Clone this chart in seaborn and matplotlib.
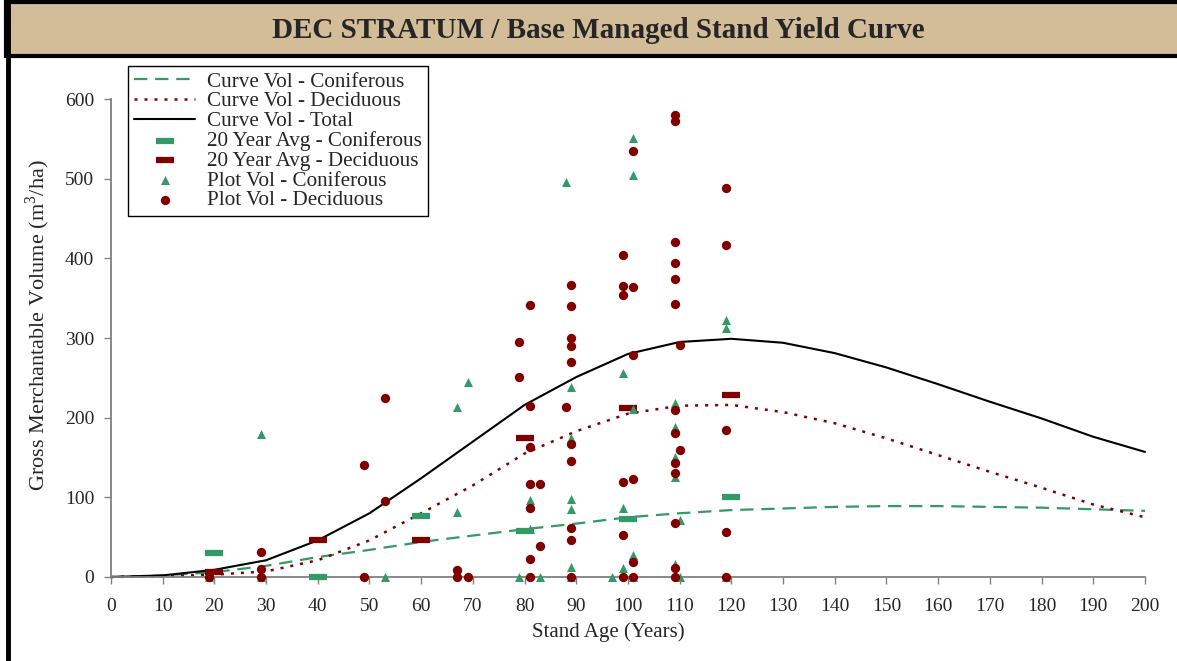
import matplotlib
matplotlib.use('Agg')
import matplotlib.pyplot as plt
from matplotlib.patches import Rectangle
from matplotlib.lines import Line2D
import numpy as np
import pandas as pd
import seaborn as sns

# yield curves, every 10 years
curve_age = [0, 10, 20, 30, 40, 50, 60, 70, 80, 90, 100, 110, 120, 130, 140, 150, 160, 170, 180, 190, 200]
curve_con = [0, 2, 6, 14, 25, 34, 44, 52, 60, 67, 75, 80, 84, 86, 88, 89, 89, 88, 87, 85, 83]
curve_dec = [0, 1, 3, 7, 21, 46, 80, 115, 155, 183, 205, 215, 216, 207, 193, 174, 153, 132, 112, 91, 75]
curve_tot = [0, 2, 9, 21, 46, 80, 124, 170, 216, 251, 280, 295, 299, 294, 281, 263, 242, 220, 199, 176, 157]

# 20 year averages
avg_age = [20, 40, 60, 80, 100, 120]
avg_con = [30, 0, 77, 58, 73, 101]
avg_dec = [6, 47, 47, 175, 212, 228]

# plot volumes
con_age = [19, 29, 29, 53, 67, 67, 69,
           79, 83, 81, 81,
           88, 89, 89, 89, 89, 89, 89,
           97, 99, 99, 99, 101, 101, 101, 101, 101,
           109, 109, 109, 109, 110, 109, 110,
           119, 119, 119]
con_vol = [0, 179, 0, 0, 213, 81, 245,
           0, 0, 97, 60,
           496, 238, 174, 98, 85, 12, 0,
           0, 256, 86, 11, 551, 504, 211, 27, 0,
           218, 188, 151, 126, 72, 16, 0,
           323, 313, 0]

dec_age = [19, 29, 29, 29, 49, 49, 53, 53, 67, 67, 69,
           79, 79, 81, 81, 81, 81, 83, 81, 83, 81, 81,
           88, 89, 89, 89, 89, 89, 89, 89, 89, 89, 89,
           99, 99, 101, 99, 101, 101, 101, 99, 99, 101, 99, 101,
           109, 109, 109, 109, 109, 109, 110, 109, 109, 110, 109, 109, 109, 109, 109,
           119, 119, 119, 119, 119]
dec_vol = [0, 31, 10, 0, 140, 0, 225, 95, 9, 0, 0,
           295, 251, 342, 215, 163, 117, 117, 86, 39, 22, 0,
           213, 366, 340, 300, 290, 270, 167, 146, 62, 47, 0,
           404, 365, 364, 354, 535, 279, 123, 119, 53, 19, 0, 0,
           580, 572, 420, 394, 374, 343, 291, 210, 181, 159, 143, 131, 68, 11, 0,
           488, 417, 185, 57, 0]

GREEN = '#339966'
RED = '#800000'
TAN = '#D3BC98'

sns.set_style('white')
plt.rcParams['font.family'] = ['Liberation Serif', 'DejaVu Serif']
plt.rcParams['mathtext.fontset'] = 'custom'
plt.rcParams['mathtext.rm'] = 'Liberation Serif'

curves = pd.DataFrame({'age': curve_age, 'con': curve_con, 'dec': curve_dec, 'tot': curve_tot})
avgs = pd.DataFrame({'age': avg_age, 'con': avg_con, 'dec': avg_dec})
con_pts = pd.DataFrame({'age': con_age, 'vol': con_vol})
dec_pts = pd.DataFrame({'age': dec_age, 'vol': dec_vol})

fig = plt.figure(figsize=(11.77, 6.61), dpi=100)
ax = fig.add_axes([0.0943, 0.1271, 0.8785, 0.7231])

# title bar and frame
fig.patches.append(Rectangle((6 / 1177, 1 - 56 / 661), 1.0, 54 / 661, transform=fig.transFigure,
                             facecolor=TAN, edgecolor='black', lw=3, zorder=0))
fig.add_artist(Line2D([8 / 1177, 8 / 1177], [0, 1 - 4 / 661], transform=fig.transFigure,
                      color='black', lw=3.5))
fig.text(598 / 1177, 1 - 31 / 661, 'DEC STRATUM / Base Managed Stand Yield Curve', ha='center',
         va='center', fontsize=21, fontweight='bold')

sns.lineplot(data=curves, x='age', y='con', ax=ax, color=GREEN, lw=1.6,
             linestyle=(0, (6, 3.5)), label='Curve Vol - Coniferous', zorder=2)
sns.lineplot(data=curves, x='age', y='dec', ax=ax, color=RED, lw=1.8,
             linestyle=(0, (1.2, 2.8)), label='Curve Vol - Deciduous', zorder=2)
sns.lineplot(data=curves, x='age', y='tot', ax=ax, color='black', lw=1.5,
             label='Curve Vol - Total', zorder=2)

sns.scatterplot(data=avgs, x='age', y='con', ax=ax, marker='_', s=180, linewidth=4.5,
                color=GREEN, label='20 Year Avg - Coniferous', zorder=3)
sns.scatterplot(data=avgs, x='age', y='dec', ax=ax, marker='_', s=180, linewidth=4.5,
                color=RED, label='20 Year Avg - Deciduous', zorder=3)
sns.scatterplot(data=con_pts, x='age', y='vol', ax=ax, marker='^', s=42, linewidth=0,
                color=GREEN, label='Plot Vol - Coniferous', zorder=4)
sns.scatterplot(data=dec_pts, x='age', y='vol', ax=ax, marker='o', s=45, linewidth=0,
                color=RED, label='Plot Vol - Deciduous', zorder=5)

# let markers on the zero line show in full
for art in ax.lines + ax.collections:
    art.set_clip_on(False)

ax.set_xlim(0, 200)
ax.set_ylim(0, 600)
ax.set_xticks(range(0, 201, 10))
ax.set_yticks(range(0, 601, 100))
ax.set_xlabel('Stand Age (Years)', fontsize=15, labelpad=6)
ax.set_ylabel('Gross Merchantable Volume (m$^3$/ha)', fontsize=16, labelpad=9)
ax.xaxis.set_label_coords(0.481, -0.095)
ax.yaxis.set_label_coords(-0.057, 0.527)
ax.tick_params(axis='both', labelsize=14, length=5, width=1, color='#808080', direction='out',
               left=True, bottom=True)
ax.tick_params(axis='x', pad=10)
ax.tick_params(axis='y', pad=7)
for side in ['top', 'right']:
    ax.spines[side].set_visible(False)
for side in ['left', 'bottom']:
    ax.spines[side].set_color('#808080')
    ax.spines[side].set_linewidth(1.3)

handles, labels = ax.get_legend_handles_labels()
ax.get_legend().remove()
leg = fig.legend(handles, labels, loc='upper left', bbox_to_anchor=(128 / 1177, 1 - 66 / 661),
                 borderaxespad=0, fontsize=15.2, frameon=True, fancybox=False, edgecolor='black',
                 framealpha=1, labelspacing=0.0, handlelength=2.9, handletextpad=0.55,
                 borderpad=0.28, markerscale=1.0)
leg.get_frame().set_linewidth(1.0)

plt.savefig('out.png', dpi=100)
plt.close()
